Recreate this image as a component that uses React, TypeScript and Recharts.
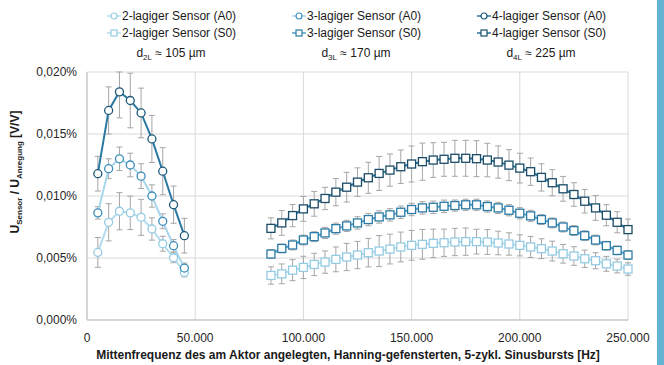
import React from 'react';
import { LineChart, Line, XAxis, YAxis, CartesianGrid, ErrorBar, Label } from 'recharts';

// Frequencies (Hz)
const freqA0 = [5000, 10000, 15000, 20000, 25000, 30000, 35000, 40000, 45000];
const freqS0 = [
  85000, 90000, 95000, 100000, 105000, 110000, 115000, 120000, 125000, 130000, 135000, 140000,
  145000, 150000, 155000, 160000, 165000, 170000, 175000, 180000, 185000, 190000, 195000, 200000,
  205000, 210000, 215000, 220000, 225000, 230000, 235000, 240000, 245000, 250000,
];

// A0 mode, values in %
const a0Two = [0.00545, 0.00788, 0.00877, 0.00864, 0.00828, 0.00734, 0.00615, 0.00502, 0.00383];
const a0TwoErr = [0.0012, 0.0015, 0.0015, 0.00135, 0.00145, 0.0009, 0.0006, 0.0004, 0.00035];
const a0Three = [0.00864, 0.0122, 0.013, 0.0125, 0.0116, 0.01, 0.00796, 0.00599, 0.00419];
const a0ThreeErr = [0.0005, 0.0008, 0.00095, 0.00095, 0.001, 0.0009, 0.0006, 0.0005, 0.0004];
const a0Four = [0.0118, 0.0169, 0.0184, 0.0177, 0.0167, 0.0146, 0.012, 0.0093, 0.0068];
// [below, above]; the bar at 15 kHz is cut by the top of the plot
const a0FourErr: (number | number[])[] = [0.0014, 0.0019, [0.0021, 0.0016], 0.0022, 0.002, 0.0019, 0.0019, 0.0015, 0.0014];

// S0 mode, values in %
const s0Two = [
  0.00359, 0.00372, 0.00402, 0.00424, 0.00448, 0.00467, 0.00489, 0.00508, 0.00524, 0.00543, 0.00556, 0.00572,
  0.00589, 0.00602, 0.0061, 0.00618, 0.00623, 0.00629, 0.00632, 0.00632, 0.00629, 0.00621, 0.00613, 0.00602,
  0.00589, 0.00575, 0.00556, 0.00534, 0.00516, 0.00494, 0.00478, 0.00453, 0.00435, 0.00411,
];
const s0TwoErr = [
  0.0007, 0.0008, 0.00085, 0.0009, 0.0009, 0.0009, 0.001, 0.0011, 0.0011, 0.00115, 0.00125, 0.0012,
  0.0012, 0.0012, 0.0012, 0.00115, 0.0011, 0.0011, 0.0011, 0.001, 0.001, 0.00095, 0.0009, 0.00085,
  0.00085, 0.0008, 0.0008, 0.00075, 0.00075, 0.0007, 0.00065, 0.0006, 0.00055, 0.0005,
];
const s0Three = [
  0.00532, 0.00577, 0.00605, 0.00645, 0.00672, 0.00702, 0.00737, 0.00759, 0.00783, 0.0081, 0.00831, 0.00848,
  0.00869, 0.00891, 0.00904, 0.00909, 0.00917, 0.00923, 0.00929, 0.00929, 0.00915, 0.00904, 0.00885, 0.00861,
  0.0084, 0.0081, 0.00783, 0.0075, 0.00721, 0.0068, 0.00645, 0.00599, 0.00561, 0.00524,
];
const s0ThreeErr = [
  0.00035, 0.00035, 0.0004, 0.0004, 0.0004, 0.00045, 0.00045, 0.00045, 0.0005, 0.0005, 0.0005, 0.0005,
  0.0005, 0.0005, 0.0005, 0.0005, 0.0005, 0.00045, 0.00045, 0.00045, 0.00045, 0.00045, 0.00045, 0.00045,
  0.00045, 0.0004, 0.0004, 0.0004, 0.0004, 0.0004, 0.0004, 0.00035, 0.00035, 0.00035,
];
const s0Four = [
  0.00739, 0.00783, 0.00842, 0.00896, 0.00937, 0.0098, 0.01031, 0.01071, 0.01112, 0.01147, 0.01182, 0.01209,
  0.01236, 0.01258, 0.01277, 0.0129, 0.01296, 0.01304, 0.01304, 0.01301, 0.0129, 0.01274, 0.01249, 0.01225,
  0.01196, 0.0115, 0.01107, 0.01058, 0.01012, 0.00958, 0.00904, 0.00845, 0.00788, 0.00729,
];
const s0FourErr = [
  0.00085, 0.001, 0.0009, 0.001, 0.001, 0.0009, 0.0011, 0.0012, 0.00115, 0.00125, 0.00137, 0.0013,
  0.00135, 0.00145, 0.0015, 0.0014, 0.00137, 0.00145, 0.00145, 0.00145, 0.00135, 0.0013, 0.00125, 0.0012,
  0.0011, 0.0011, 0.00105, 0.001, 0.00095, 0.00095, 0.001, 0.00085, 0.00085, 0.00085,
];

const xTicks = [0, 50000, 100000, 150000, 200000, 250000];
const yTicks = [0, 0.005, 0.01, 0.015, 0.02];

const legendA0 = ['2-lagiger Sensor (A0)', '3-lagiger Sensor (A0)', '4-lagiger Sensor (A0)'];
const legendS0 = ['2-lagiger Sensor (S0)', '3-lagiger Sensor (S0)', '4-lagiger Sensor (S0)'];
const thicknessSub = ['2L', '3L', '4L'];
const thicknessVal = ['105', '170', '225'];

const xTitle = 'Mittenfrequenz des am Aktor angelegten, Hanning-gefensterten, 5-zykl. Sinusbursts [Hz]';

// colours per layer
const colors = [
  { a0Line: '#b3dcee', a0Mark: '#94cbe3', s0Line: '#b3dcee', s0Mark: '#94cbe3' },
  { a0Line: '#a8d6ea', a0Mark: '#3b8dbb', s0Line: '#4f9fca', s0Mark: '#2b7ba6' },
  { a0Line: '#2a79a2', a0Mark: '#1d5878', s0Line: '#22729a', s0Mark: '#1b4c67' },
];

const FONT = '"Liberation Sans", Arial, sans-serif';

const rows = (freqs: number[], vals: number[], errs: (number | number[])[]) =>
  freqs.map((f, i) => ({ f, v: vals[i], err: errs[i] }));

const seriesA0 = [rows(freqA0, a0Two, a0TwoErr), rows(freqA0, a0Three, a0ThreeErr), rows(freqA0, a0Four, a0FourErr)];
const seriesS0 = [rows(freqS0, s0Two, s0TwoErr), rows(freqS0, s0Three, s0ThreeErr), rows(freqS0, s0Four, s0FourErr)];

const fmtX = (n: number) => String(n).replace(/\B(?=(\d{3})+(?!\d))/g, '.');
const fmtY = (n: number) => n.toFixed(3).replace('.', ',') + '%';

const squareDot = (color: string) => (props: any) => {
  const { cx, cy, index } = props;
  if (cx == null || cy == null) return <g key={`sq-${index}`} />;
  return (
    <rect key={`sq-${index}`} x={cx - 4} y={cy - 4} width={8} height={8} fill="#fff" stroke={color} strokeWidth={1.3} />
  );
};

const YTitle = () => (
  <text transform="translate(19, 172) rotate(-90)" textAnchor="middle" fontWeight="bold" fontSize={12} fill="#1a1a1a" fontFamily={FONT}>
    <tspan>U</tspan>
    <tspan fontSize={8} dy={3}>Sensor</tspan>
    <tspan dy={-3}> / U</tspan>
    <tspan fontSize={8} dy={3}>Anregung</tspan>
    <tspan dy={-3}> [V/V]</tspan>
  </text>
);

const XTitle = () => (
  <text x={348} y={359} textAnchor="middle" fontWeight="bold" fontSize={12} fill="#1a1a1a" fontFamily={FONT}>
    {xTitle}
  </text>
);

const LegendIcon = ({ line, mark, square }: { line: string; mark: string; square?: boolean }) => (
  <svg width={14} height={10} style={{ marginRight: 1 }}>
    <line x1={0} y1={5} x2={14} y2={5} stroke={line} strokeWidth={1.5} />
    {square ? (
      <rect x={4} y={2} width={6} height={6} fill="#fff" stroke={mark} strokeWidth={1.2} />
    ) : (
      <circle cx={7} cy={5} r={3} fill="#fff" stroke={mark} strokeWidth={1.2} />
    )}
  </svg>
);

const legendItem: React.CSSProperties = {
  position: 'absolute',
  display: 'flex',
  alignItems: 'center',
  fontSize: 12,
  lineHeight: '14px',
  color: '#1a1a1a',
  whiteSpace: 'nowrap',
};

export default function App() {
  return (
    <div style={{ position: 'absolute', left: 0, top: 0, width: 664, height: 365, background: '#fff', fontFamily: FONT }}>
      {legendA0.map((t, i) => (
        <div key={`la-${i}`} style={{ ...legendItem, left: 107 + i * 185, top: 9 }}>
          <LegendIcon line={colors[i].a0Line} mark={colors[i].a0Mark} />
          {t}
        </div>
      ))}
      {legendS0.map((t, i) => (
        <div key={`ls-${i}`} style={{ ...legendItem, left: 107 + i * 185, top: 26 }}>
          <LegendIcon line={colors[i].s0Line} mark={colors[i].s0Mark} square />
          {t}
        </div>
      ))}
      {thicknessSub.map((s, i) => (
        <div key={`ld-${i}`} style={{ ...legendItem, left: 107 + i * 185, width: 128, justifyContent: 'center', top: 46 }}>
          <span>
            d<sub style={{ fontSize: 8 }}>{s}</sub> ≈ {thicknessVal[i]} µm
          </span>
        </div>
      ))}

      <div style={{ position: 'absolute', left: 0, top: 0 }}>
        <LineChart width={664} height={365} margin={{ top: 72, right: 36, bottom: 0, left: 0 }}>
          <CartesianGrid stroke="#d9d9d9" />
          <XAxis
            type="number"
            dataKey="f"
            domain={[0, 250000]}
            ticks={xTicks}
            tickFormatter={fmtX}
            height={45}
            tickLine={false}
            axisLine={{ stroke: '#bfbfbf' }}
            tick={{ fill: '#262626', fontSize: 12 }}
            tickMargin={7}
            allowDuplicatedCategory={false}
          >
            <Label content={<XTitle />} />
          </XAxis>
          <YAxis
            type="number"
            domain={[0, 0.02]}
            ticks={yTicks}
            tickFormatter={fmtY}
            width={87}
            tickLine={false}
            axisLine={{ stroke: '#bfbfbf' }}
            tick={{ fill: '#262626', fontSize: 12 }}
            tickMargin={4}
          >
            <Label content={<YTitle />} />
          </YAxis>

          {seriesA0.map((d, i) => (
            <Line
              key={`a0-${i}`}
              data={d}
              dataKey="v"
              stroke={colors[i].a0Line}
              strokeWidth={2}
              dot={{ r: 4, fill: '#fff', stroke: colors[i].a0Mark, strokeWidth: 1.3 }}
              activeDot={false}
              isAnimationActive={false}
            >
              <ErrorBar dataKey="err" direction="y" width={3} stroke="#a6a6a6" strokeWidth={1} isAnimationActive={false} />
            </Line>
          ))}
          {seriesS0.map((d, i) => (
            <Line
              key={`s0-${i}`}
              data={d}
              dataKey="v"
              stroke={colors[i].s0Line}
              strokeWidth={2}
              dot={squareDot(colors[i].s0Mark)}
              activeDot={false}
              isAnimationActive={false}
            >
              <ErrorBar dataKey="err" direction="y" width={3} stroke="#a6a6a6" strokeWidth={1} isAnimationActive={false} />
            </Line>
          ))}
        </LineChart>
      </div>

      <div style={{ position: 'absolute', left: 657, top: 0, width: 7, height: 365, background: '#63b3d5' }} />
    </div>
  );
}
